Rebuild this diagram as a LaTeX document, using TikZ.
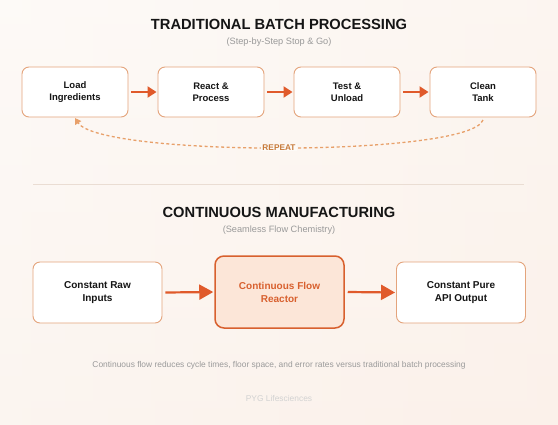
\documentclass[tikz,border=0pt]{standalone}
\usepackage{fontspec}
\setmainfont{Liberation Sans}
\usetikzlibrary{arrows.meta}
\definecolor{bgA}{HTML}{FDFAF7}
\definecolor{bgB}{HTML}{FBF1EA}
\definecolor{boxline}{HTML}{E4A47C}
\definecolor{accent}{HTML}{E05A2B}
\definecolor{reactfill}{HTML}{FCE6D8}
\definecolor{reactline}{HTML}{D8602E}
\definecolor{dashcol}{HTML}{E8A06A}
\definecolor{repeatcol}{HTML}{C77A3A}
\definecolor{titlecol}{HTML}{151515}
\definecolor{subcol}{HTML}{9A9A9A}
\definecolor{divcol}{HTML}{EADDD3}
\tikzset{
  x=1pt,y=-1pt,
  stepbox/.style={draw=boxline,line width=0.9pt,fill=white,rounded corners=7pt,
    minimum width=#1,align=center,font=\fontsize{9.5}{12}\selectfont\bfseries,text=titlecol},
  bigbox/.style={stepbox=#1,font=\fontsize{10}{13}\selectfont\bfseries},
  flowarrow/.style={draw=accent,line width=2pt,-{Triangle[length=9pt,width=11pt]}},
  bigarrow/.style={draw=accent,line width=2.2pt,-{Triangle[length=14pt,width=15pt]}},
  maintitle/.style={font=\fontsize{14.7}{17}\selectfont\bfseries,text=titlecol},
  subtitle/.style={font=\fontsize{9.2}{11}\selectfont,text=subcol},
}
\begin{document}
\begin{tikzpicture}
\shade[left color=bgA,right color=bgB] (0,0) rectangle (558,424);
\shade[top color=bgA,bottom color=bgB,opacity=0.5] (0,0) rectangle (558,424);
\useasboundingbox (0,0) rectangle (558,424);

\node[maintitle] (t1) at (279,24) {TRADITIONAL BATCH PROCESSING};
\node[subtitle] (s1) at (279,42) {(Step-by-Step Stop \& Go)};

\node[stepbox=106pt,minimum height=50pt] (b1) at (75,92) {Load\\Ingredients};
\node[stepbox=106pt,minimum height=50pt] (b2) at (211,92) {React \&\\Process};
\node[stepbox=106pt,minimum height=50pt] (b3) at (347,92) {Test \&\\Unload};
\node[stepbox=106pt,minimum height=50pt] (b4) at (483,92) {Clean\\Tank};

\draw[flowarrow] ([xshift=3pt]b1.east) -- ([xshift=-1pt]b2.west);
\draw[flowarrow] ([xshift=3pt]b2.east) -- ([xshift=-1pt]b3.west);
\draw[flowarrow] ([xshift=3pt]b3.east) -- ([xshift=-1pt]b4.west);

\coordinate (r0) at (483,120);
\coordinate (r1) at (75,118);
\draw[draw=dashcol,line width=1.3pt,dash pattern=on 3pt off 2.5pt,-{Triangle[length=6pt,width=7pt]}]
  (r0) .. controls (470,157) and (100,157) .. (r1);
\node[fill=bgA,inner sep=1pt,font=\fontsize{8.3}{10}\selectfont\bfseries,text=repeatcol] (rep) at (279,147.5) {REPEAT};

\draw[divcol,line width=1pt] (33,184) -- (524,184);

\node[maintitle] (t2) at (279,212) {CONTINUOUS MANUFACTURING};
\node[subtitle] (s2) at (279,230) {(Seamless Flow Chemistry)};

\node[bigbox=129pt,minimum height=61pt] (c1) at (97.5,292.5) {Constant Raw\\Inputs};
\node[bigbox=129pt,minimum height=72pt,draw=reactline,line width=1.5pt,fill=reactfill,text=reactline,rounded corners=9pt] (c2) at (279.5,292) {Continuous Flow\\Reactor};
\node[bigbox=129pt,minimum height=61pt] (c3) at (461,292.5) {Constant Pure\\API Output};

\draw[bigarrow] ([xshift=3pt]c1.east) -- ([xshift=-1pt]c2.west);
\draw[bigarrow] ([xshift=3pt]c2.east) -- ([xshift=-1pt]c3.west);

\node[font=\fontsize{8.4}{10}\selectfont,text=subcol] (note) at (279,365) {Continuous flow reduces cycle times, floor space, and error rates versus traditional batch processing};
\node[font=\fontsize{8.4}{10}\selectfont,text=subcol!45] (brand) at (279,398) {PYG Lifesciences};
\end{tikzpicture}
\end{document}
